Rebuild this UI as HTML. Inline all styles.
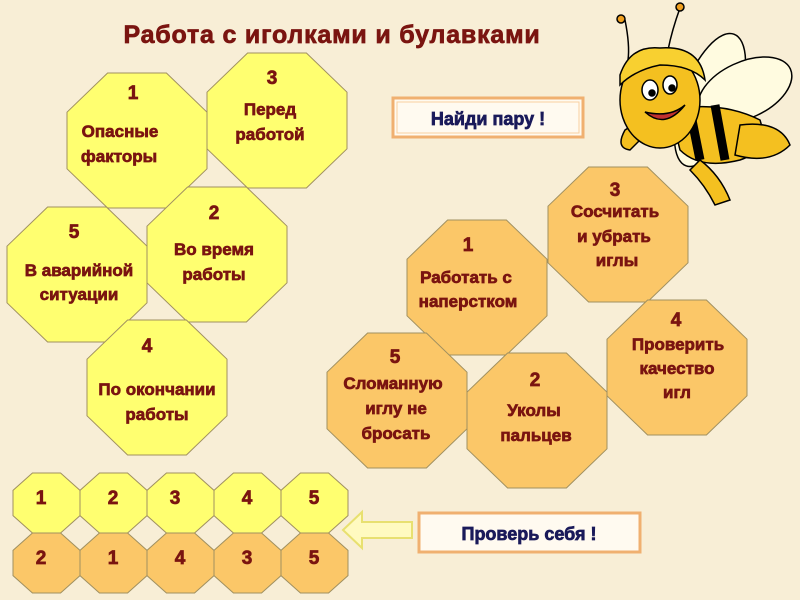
<!DOCTYPE html>
<html><head><meta charset="utf-8"><style>
html,body{margin:0;padding:0;background:#f8eed6;}
svg{display:block}
text{font-family:"Liberation Sans",Arial,sans-serif;font-weight:bold;fill:#7a1410;stroke:#7a1410;stroke-width:0.7;text-anchor:middle}
</style></head><body>
<svg id="s" width="800" height="600" viewBox="0 0 800 600" xmlns="http://www.w3.org/2000/svg">
<rect width="800" height="600" fill="#f8eed6"/>
<g id="oct"></g>
<text x="332" y="43" style="font-size:25px;letter-spacing:0.8px">Работа с иголками и булавками</text>
<g font-size="17">
<text x="120" y="137">Опасные</text>
<text x="119" y="162">факторы</text>
<text x="270" y="115">Перед</text>
<text x="270" y="140">работой</text>
<text x="79" y="276">В аварийной</text>
<text x="79" y="300">ситуации</text>
<text x="214" y="255">Во время</text>
<text x="214" y="280">работы</text>
<text x="157" y="395">По окончании</text>
<text x="157" y="420">работы</text>
<text x="466" y="283">Работать с</text>
<text x="468" y="307">наперстком</text>
<text x="615" y="217">Сосчитать</text>
<text x="614" y="242">и убрать</text>
<text x="617" y="266">иглы</text>
<text x="678" y="350">Проверить</text>
<text x="677" y="374">качество</text>
<text x="677" y="398">игл</text>
<text x="393" y="389">Сломанную</text>
<text x="396" y="414">иглу не</text>
<text x="396" y="439">бросать</text>
<text x="534" y="416">Уколы</text>
<text x="536" y="441">пальцев</text>
</g>
<g font-size="19">
<text x="133" y="99">1</text><text x="272" y="84">3</text><text x="74" y="238">5</text><text x="214" y="219">2</text><text x="147" y="352">4</text>
<text x="468" y="251">1</text><text x="615" y="196">3</text><text x="676" y="326">4</text><text x="395" y="363">5</text><text x="535" y="386">2</text>
<text x="41" y="504">1</text><text x="113" y="504">2</text><text x="175" y="504">3</text><text x="247" y="504">4</text><text x="314" y="504">5</text>
<text x="41" y="564">2</text><text x="113" y="564">1</text><text x="180" y="564">4</text><text x="247" y="564">3</text><text x="314" y="564">5</text>
</g>
<rect x="393" y="98" width="190" height="39" fill="#fffaf0" stroke="#f0b070" stroke-width="3"/>
<rect x="397" y="102" width="182" height="31" fill="none" stroke="#f8d0a0" stroke-width="1"/>
<text x="488" y="125" font-size="18" style="fill:#1a1a5a;stroke:#1a1a5a">Найди пару !</text>
<rect x="419" y="513" width="221" height="39" fill="#fffaf0" stroke="#f0b070" stroke-width="3"/>
<text x="529" y="540" font-size="18" style="fill:#1a1a5a;stroke:#1a1a5a">Проверь себя !</text>
<polygon points="343,530 362,512 362,522 412,522 412,538 362,538 362,548" fill="#fffac0" stroke="#e8e070" stroke-width="2"/>
<g stroke="#000" stroke-width="1.5">
<ellipse cx="710" cy="100" rx="28" ry="70" fill="#fffbe0" transform="rotate(20 710 100)"/>
<ellipse cx="745" cy="90" rx="50" ry="28" fill="#fffbe0" transform="rotate(-25 745 90)"/>
<path d="M625 20 Q630 45 628 60" fill="none"/><circle cx="621" cy="19" r="4" fill="#f0a020"/>
<path d="M680 8 Q672 30 668 50" fill="none"/><circle cx="680" cy="7" r="4" fill="#f0a020"/>
<path d="M670 110 Q720 100 760 120 Q770 150 740 160 Q700 170 680 150 Z" fill="#f4c020"/>
<path d="M690 110 L700 160 M715 105 L725 160" stroke="#000" stroke-width="9"/>
<path d="M740 125 Q780 120 790 145 Q770 165 735 155 Z" fill="#f4c020"/>
<path d="M625 130 Q640 120 655 125 L630 150 Q615 148 625 130 Z" fill="#f4c020"/>
<path d="M700 160 Q720 175 730 200 L715 205 Q705 185 690 170 Z" fill="#f4c020"/>
<ellipse cx="660" cy="100" rx="40" ry="48" fill="#f4c020"/>
<path d="M620 75 Q630 45 660 48 Q700 45 705 80 Q690 65 660 65 Q635 70 620 85 Z" fill="#f8d030"/>
<ellipse cx="650" cy="90" rx="8" ry="10" fill="#fff"/><ellipse cx="670" cy="85" rx="7" ry="9" fill="#fff"/>
<circle cx="652" cy="93" r="3" fill="#000"/><circle cx="672" cy="88" r="3" fill="#000"/>
<path d="M645 112 Q665 130 685 105 Q670 118 645 112 Z" fill="#c03030"/>
</g>
</svg>
<script>
function oc(x,y,w,h,f){var c=w*0.29,d=h*0.29;return '<polygon points="'+[x+c,y,x+w-c,y,x+w,y+d,x+w,y+h-d,x+w-c,y+h,x+c,y+h,x,y+h-d,x,y+d].join(' ')+'" fill="'+f+'" stroke="#a09060" stroke-width="1"/>';}
var Y='#ffff70',O='#fbc768',s='';
[[67,73],[207,53],[7,207],[147,187],[87,320]].forEach(function(p){s+=oc(p[0],p[1],140,135,Y)});
[[407,220],[548,167],[607,300],[327,333],[467,353]].forEach(function(p){s+=oc(p[0],p[1],140,135,O)});
for(var i=0;i<5;i++){s+=oc(13+i*67,473,67,60,Y);s+=oc(13+i*67,533,67,60,O);}
document.getElementById('oct').innerHTML=s;
</script>
</body></html>
